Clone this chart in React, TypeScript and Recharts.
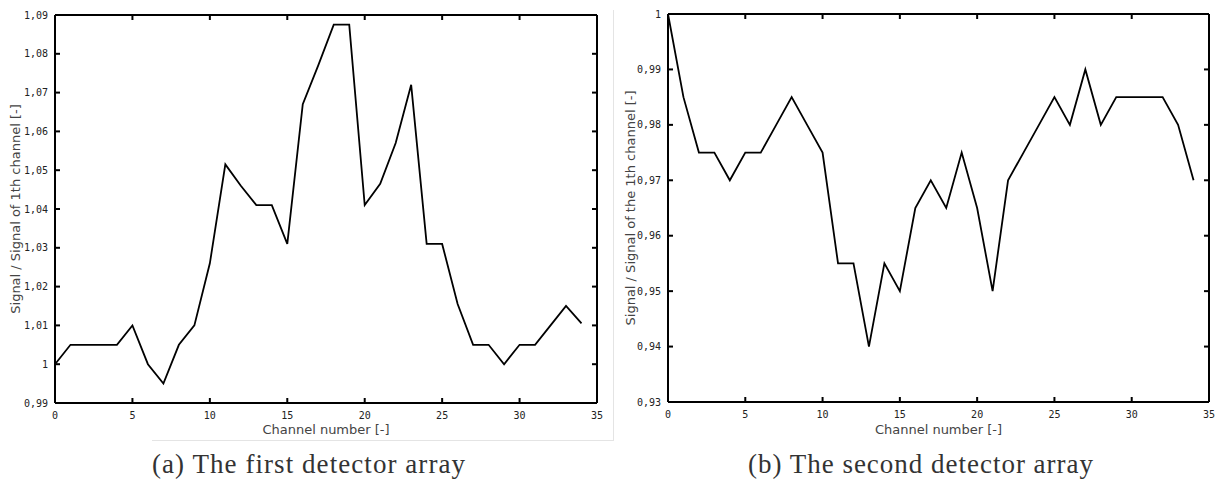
import React from "react";
import { Line, LineChart, XAxis, YAxis } from "recharts";

// channel index on the x axis
const channels = [
	0, 1, 2, 3, 4, 5, 6, 7, 8, 9, 10, 11, 12, 13, 14, 15, 16, 17, 18, 19, 20, 21,
	22, 23, 24, 25, 26, 27, 28, 29, 30, 31, 32, 33, 34,
];

// (a) first detector array
const firstArray = [
	1.0, 1.005, 1.005, 1.005, 1.005, 1.01, 1.0, 0.995, 1.005, 1.01, 1.026, 1.0515,
	1.046, 1.041, 1.041, 1.031, 1.067, 1.077, 1.0875, 1.0875, 1.041, 1.0465,
	1.057, 1.072, 1.031, 1.031, 1.0155, 1.005, 1.005, 1.0, 1.005, 1.005, 1.01,
	1.015, 1.0105,
];

// (b) second detector array
const secondArray = [
	1.0, 0.985, 0.975, 0.975, 0.97, 0.975, 0.975, 0.98, 0.985, 0.98, 0.975, 0.955,
	0.955, 0.94, 0.955, 0.95, 0.965, 0.97, 0.965, 0.975, 0.965, 0.95, 0.97, 0.975,
	0.98, 0.985, 0.98, 0.99, 0.98, 0.985, 0.985, 0.985, 0.985, 0.98, 0.97,
];

const xTicks = [0, 5, 10, 15, 20, 25, 30, 35];
const yTicksA = [0.99, 1.0, 1.01, 1.02, 1.03, 1.04, 1.05, 1.06, 1.07, 1.08, 1.09];
const yTicksB = [0.93, 0.94, 0.95, 0.96, 0.97, 0.98, 0.99, 1.0];

const xTitle = "Channel number [-]";
const yTitleA = "Signal / Signal of 1th channel [-]";
const yTitleB = "Signal / Signal of the 1th channel [-]";
const captionA = "(a) The first detector array";
const captionB = "(b) The second detector array";

const dataA = channels.map((ch, i) => ({ ch, v: firstArray[i] }));
const dataB = channels.map((ch, i) => ({ ch, v: secondArray[i] }));

const fmt = (v: number) =>
	Math.abs(v - 1) < 1e-9 ? "1" : v.toFixed(2).replace(".", ",");

const CHART_W = 612;
const CHART_H = 440;
const MARGIN_R = 14;
const TICK = 5; // inward tick length
const tickFont = { fontFamily: "DejaVu Sans Mono", fontSize: 10, fill: "#222" };
const titleStyle = { fontFamily: "DejaVu Sans", fontSize: 13, fill: "#444" };
const axisLine = { stroke: "#000", strokeWidth: 2 };

// gnuplot style: ticks point into the plot and are mirrored on the opposite side.
// x/y arrive on the axis line (tickSize and tickMargin are 0).
const makeBottomTick = (plotH: number) => (p: any) => (
	<g>
		<line x1={p.x} x2={p.x} y1={p.y} y2={p.y - TICK} stroke="#000" strokeWidth={2} />
		<line
			x1={p.x}
			x2={p.x}
			y1={p.y - plotH}
			y2={p.y - plotH + TICK}
			stroke="#000"
			strokeWidth={2}
		/>
		<text x={p.x} y={p.y + 16} textAnchor="middle" {...tickFont}>
			{p.payload.value}
		</text>
	</g>
);
const makeLeftTick = (plotW: number) => (p: any) => (
	<g>
		<line x1={p.x} x2={p.x + TICK} y1={p.y} y2={p.y} stroke="#000" strokeWidth={2} />
		<line
			x1={p.x + plotW}
			x2={p.x + plotW - TICK}
			y1={p.y}
			y2={p.y}
			stroke="#000"
			strokeWidth={2}
		/>
		<text x={p.x - 7} y={p.y + 3.5} textAnchor="end" {...tickFont}>
			{fmt(p.payload.value)}
		</text>
	</g>
);

type PanelProps = {
	data: { ch: number; v: number }[];
	yTicks: number[];
	yTitle: string;
	yAxisWidth: number;
	titleOffset: number;
	marginTop: number;
	xAxisHeight: number;
};

function Panel({
	data,
	yTicks,
	yTitle,
	yAxisWidth,
	titleOffset,
	marginTop,
	xAxisHeight,
}: PanelProps) {
	const yDomain = [yTicks[0], yTicks[yTicks.length - 1]];
	const plotH = CHART_H - marginTop - 1 - xAxisHeight;
	const plotW = CHART_W - MARGIN_R - 1 - yAxisWidth;
	return (
		<LineChart
			width={CHART_W}
			height={CHART_H}
			data={data}
			margin={{ top: marginTop, right: MARGIN_R, bottom: 0, left: 0 }}>
			<XAxis
				dataKey="ch"
				type="number"
				domain={[0, 35]}
				ticks={xTicks}
				interval={0}
				height={xAxisHeight}
				tickSize={0}
				tickMargin={0}
				tick={makeBottomTick(plotH)}
				tickLine={false}
				axisLine={axisLine}
				label={{
					value: xTitle,
					position: "insideBottom",
					offset: 6,
					style: titleStyle,
				}}
			/>
			{/* top and right axes only draw the frame */}
			<XAxis
				xAxisId="top"
				orientation="top"
				type="number"
				domain={[0, 35]}
				height={1}
				tick={false}
				tickLine={false}
				axisLine={axisLine}
			/>
			<YAxis
				type="number"
				domain={yDomain}
				ticks={yTicks}
				interval={0}
				width={yAxisWidth}
				tickSize={0}
				tickMargin={0}
				tick={makeLeftTick(plotW)}
				tickLine={false}
				axisLine={axisLine}
				label={{
					value: yTitle,
					angle: -90,
					position: "insideLeft",
					offset: titleOffset,
					style: { ...titleStyle, textAnchor: "middle" },
				}}
			/>
			<YAxis
				yAxisId="right"
				orientation="right"
				type="number"
				domain={yDomain}
				width={1}
				tick={false}
				tickLine={false}
				axisLine={axisLine}
			/>
			<Line
				dataKey="v"
				type="linear"
				stroke="#000"
				strokeWidth={1.8}
				dot={false}
				isAnimationActive={false}
			/>
		</LineChart>
	);
}

export default function App() {
	return (
		<div
			style={{
				position: "absolute",
				left: 0,
				top: 0,
				width: 1224,
				height: 482,
				background: "#fff",
				overflow: "hidden",
			}}>
			{/* faint frame of the embedded figure */}
			<div
				style={{
					position: "absolute",
					left: 152,
					top: 440,
					width: 461,
					height: 1,
					background: "#e4e4e4",
				}}
			/>
			<div
				style={{
					position: "absolute",
					left: 613,
					top: 10,
					width: 1,
					height: 431,
					background: "#e4e4e4",
				}}
			/>
			<div style={{ position: "absolute", left: 0, top: 0 }}>
				<Panel
					data={dataA}
					yTicks={yTicksA}
					yTitle={yTitleA}
					yAxisWidth={55}
					titleOffset={15}
					marginTop={14}
					xAxisHeight={37}
				/>
			</div>
			<div style={{ position: "absolute", left: 612, top: 0 }}>
				<Panel
					data={dataB}
					yTicks={yTicksB}
					yTitle={yTitleB}
					yAxisWidth={56}
					titleOffset={18}
					marginTop={13}
					xAxisHeight={38}
				/>
			</div>
			<svg
				width={1224}
				height={42}
				style={{ position: "absolute", left: 0, top: 440 }}>
				<text
					x={152}
					y={33}
					textLength={313}
					lengthAdjust="spacing"
					fontFamily="Liberation Serif"
					fontSize={27}
					fill="#333">
					{captionA}
				</text>
				<text
					x={748}
					y={33}
					textLength={345}
					lengthAdjust="spacing"
					fontFamily="Liberation Serif"
					fontSize={27}
					fill="#333">
					{captionB}
				</text>
			</svg>
		</div>
	);
}
